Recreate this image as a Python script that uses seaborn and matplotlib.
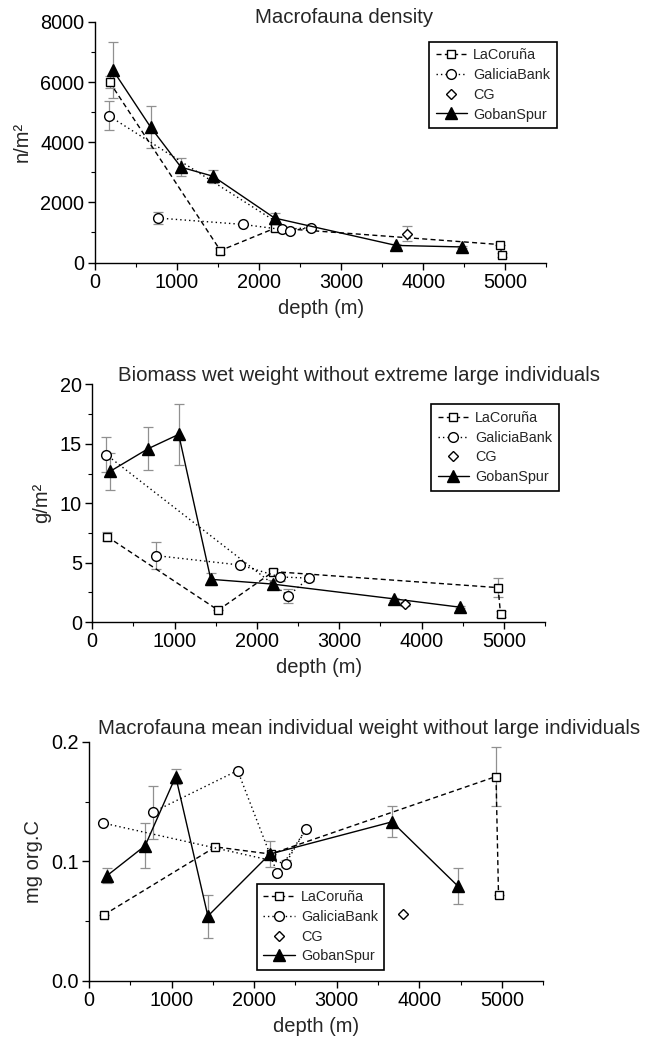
import matplotlib
matplotlib.use("Agg")
import matplotlib.pyplot as plt
from matplotlib.ticker import AutoMinorLocator, MultipleLocator
import seaborn as sns

# ---- data -------------------------------------------------------------
# depths (m) of the stations for each area
lacoruna_depth = [180, 1530, 2200, 4930, 4960]
galicia_depth = [770, 1800, 2280, 2630, 2380, 170]
cg_depth = [3800]
goban_depth = [220, 680, 1050, 1440, 2190, 3670, 4470]

# macrofauna density (n/m2) and standard errors
lacoruna_dens = [6000, 400, 1150, 600, 250]
lacoruna_dens_err = [200, 100, 100, 0, 80]
galicia_dens = [1480, 1270, 1100, 1160, 1060, 4880]
galicia_dens_err = [200, 0, 60, 70, 60, 480]
cg_dens = [960]
cg_dens_err = [250]
goban_dens = [6400, 4500, 3170, 2870, 1480, 570, 520]
goban_dens_err = [930, 700, 300, 210, 180, 50, 40]

# biomass wet weight (g/m2)
lacoruna_bio = [7.2, 1.0, 4.25, 2.9, 0.65]
lacoruna_bio_err = [0.4, 0.0, 0.2, 0.8, 0.25]
galicia_bio = [5.6, 4.8, 3.8, 3.7, 2.2, 14.1]
galicia_bio_err = [1.1, 0.0, 0.35, 0.25, 0.6, 1.45]
cg_bio = [1.5]
cg_bio_err = [0.15]
goban_bio = [12.7, 14.6, 15.8, 3.6, 3.2, 1.95, 1.25]
goban_bio_err = [1.55, 1.8, 2.55, 0.5, 0.35, 0.1, 0.1]

# mean individual weight (mg org. C)
lacoruna_ind = [0.055, 0.112, 0.106, 0.171, 0.072]
lacoruna_ind_err = [0.0, 0.0, 0.0, 0.025, 0.0]
galicia_ind = [0.141, 0.176, 0.090, 0.127, 0.098, 0.132]
galicia_ind_err = [0.022, 0.0, 0.0, 0.0, 0.003, 0.0]
cg_ind = [0.056]
cg_ind_err = [0.0]
goban_ind = [0.088, 0.113, 0.171, 0.054, 0.106, 0.133, 0.079]
goban_ind_err = [0.006, 0.019, 0.006, 0.018, 0.011, 0.013, 0.015]

series_names = ["LaCoruña", "GaliciaBank", "CG", "GobanSpur"]

# ---- style ------------------------------------------------------------
sns.set_theme(style="ticks")
plt.rcParams["font.family"] = ["Liberation Sans", "DejaVu Sans"]
plt.rcParams["axes.linewidth"] = 1.0
plt.rcParams["xtick.major.size"] = 5
plt.rcParams["ytick.major.size"] = 5
plt.rcParams["xtick.minor.size"] = 3
plt.rcParams["ytick.minor.size"] = 3
plt.rcParams["xtick.major.width"] = 1.0
plt.rcParams["ytick.major.width"] = 1.0
plt.rcParams["xtick.minor.width"] = 0.8
plt.rcParams["ytick.minor.width"] = 0.8
plt.rcParams["xtick.color"] = "black"
plt.rcParams["ytick.color"] = "black"
plt.rcParams["axes.edgecolor"] = "black"

TICK_FS = 14.3
LABEL_FS = 14.5
TITLE_FS = 14.7
LEGEND_FS = 10.4

line_styles = {
    "LaCoruña": dict(linestyle=(0, (3.6, 2.4)), marker="s", markersize=6.3),
    "GaliciaBank": dict(linestyle=(0, (1, 2.2)), marker="o", markersize=7),
    "CG": dict(linestyle="none", marker="D", markersize=5),
    "GobanSpur": dict(linestyle="-", marker="^", markersize=8),
}
face = {"LaCoruña": "white", "GaliciaBank": "white", "CG": "white", "GobanSpur": "black"}

fig = plt.figure(figsize=(6.45, 10.42), dpi=100)

panels = [
    dict(rect=[0.147, 0.748, 0.700, 0.231],
         data=[(lacoruna_depth, lacoruna_dens, lacoruna_dens_err),
               (galicia_depth, galicia_dens, galicia_dens_err),
               (cg_depth, cg_dens, cg_dens_err),
               (goban_depth, goban_dens, goban_dens_err)],
         ylim=(0, 8000), ymajor=2000, ylabel="n/m²",
         title="Macrofauna density", title_xy=(0.534, 0.983),
         leg=dict(loc="upper right", bbox=(0.863, 0.960))),
    dict(rect=[0.143, 0.403, 0.702, 0.228],
         data=[(lacoruna_depth, lacoruna_bio, lacoruna_bio_err),
               (galicia_depth, galicia_bio, galicia_bio_err),
               (cg_depth, cg_bio, cg_bio_err),
               (goban_depth, goban_bio, goban_bio_err)],
         ylim=(0, 20), ymajor=5, ylabel="g/m²",
         title="Biomass wet weight without extreme large individuals",
         title_xy=(0.556, 0.640),
         leg=dict(loc="upper right", bbox=(0.866, 0.612))),
    dict(rect=[0.138, 0.059, 0.704, 0.229],
         data=[(lacoruna_depth, lacoruna_ind, lacoruna_ind_err),
               (galicia_depth, galicia_ind, galicia_ind_err),
               (cg_depth, cg_ind, cg_ind_err),
               (goban_depth, goban_ind, goban_ind_err)],
         ylim=(0, 0.2), ymajor=0.1, ylabel="mg org.C",
         title="Macrofauna mean individual weight without large individuals",
         title_xy=(0.572, 0.301),
         leg=dict(loc="upper left", bbox=(0.398, 0.152))),
]

for p in panels:
    ax = fig.add_axes(p["rect"])
    for name, (xs, ys, es) in zip(series_names, p["data"]):
        ax.errorbar(xs, ys, yerr=es, fmt="none", ecolor="#909090",
                    elinewidth=0.9, capsize=3.5, capthick=0.9, zorder=1)
        st = line_styles[name]
        sns.lineplot(x=xs, y=ys, ax=ax, sort=False, estimator=None,
                     color="black", linewidth=1.0,
                     linestyle=st["linestyle"], marker=st["marker"],
                     markersize=st["markersize"], markerfacecolor=face[name],
                     markeredgecolor="black", markeredgewidth=1.0,
                     label=name, zorder=3)

    ax.set_xlim(0, 5500)
    ax.set_ylim(*p["ylim"])
    ax.xaxis.set_major_locator(MultipleLocator(1000))
    ax.xaxis.set_minor_locator(AutoMinorLocator(2))
    ax.yaxis.set_major_locator(MultipleLocator(p["ymajor"]))
    ax.yaxis.set_minor_locator(AutoMinorLocator(2))
    ax.tick_params(axis="both", which="both", direction="out",
                   labelsize=TICK_FS, pad=2.5)
    sns.despine(ax=ax)
    ax.set_facecolor("white")
    ax.set_xlabel("depth (m)", fontsize=LABEL_FS, labelpad=5)
    ax.set_ylabel(p["ylabel"], fontsize=LABEL_FS, labelpad=6)
    fig.text(p["title_xy"][0], p["title_xy"][1], p["title"],
             ha="center", va="center", fontsize=TITLE_FS)

    handles, labels = ax.get_legend_handles_labels()
    leg = ax.legend(handles, labels, loc=p["leg"]["loc"],
                    bbox_to_anchor=p["leg"]["bbox"], bbox_transform=fig.transFigure,
                    fontsize=LEGEND_FS, frameon=True, fancybox=False, framealpha=1,
                    edgecolor="black", handlelength=2.2, handletextpad=0.4,
                    labelspacing=0.4, borderpad=0.45, borderaxespad=0)
    leg.get_frame().set_linewidth(1.2)

fig.savefig("out.png", dpi=100, facecolor="white")
